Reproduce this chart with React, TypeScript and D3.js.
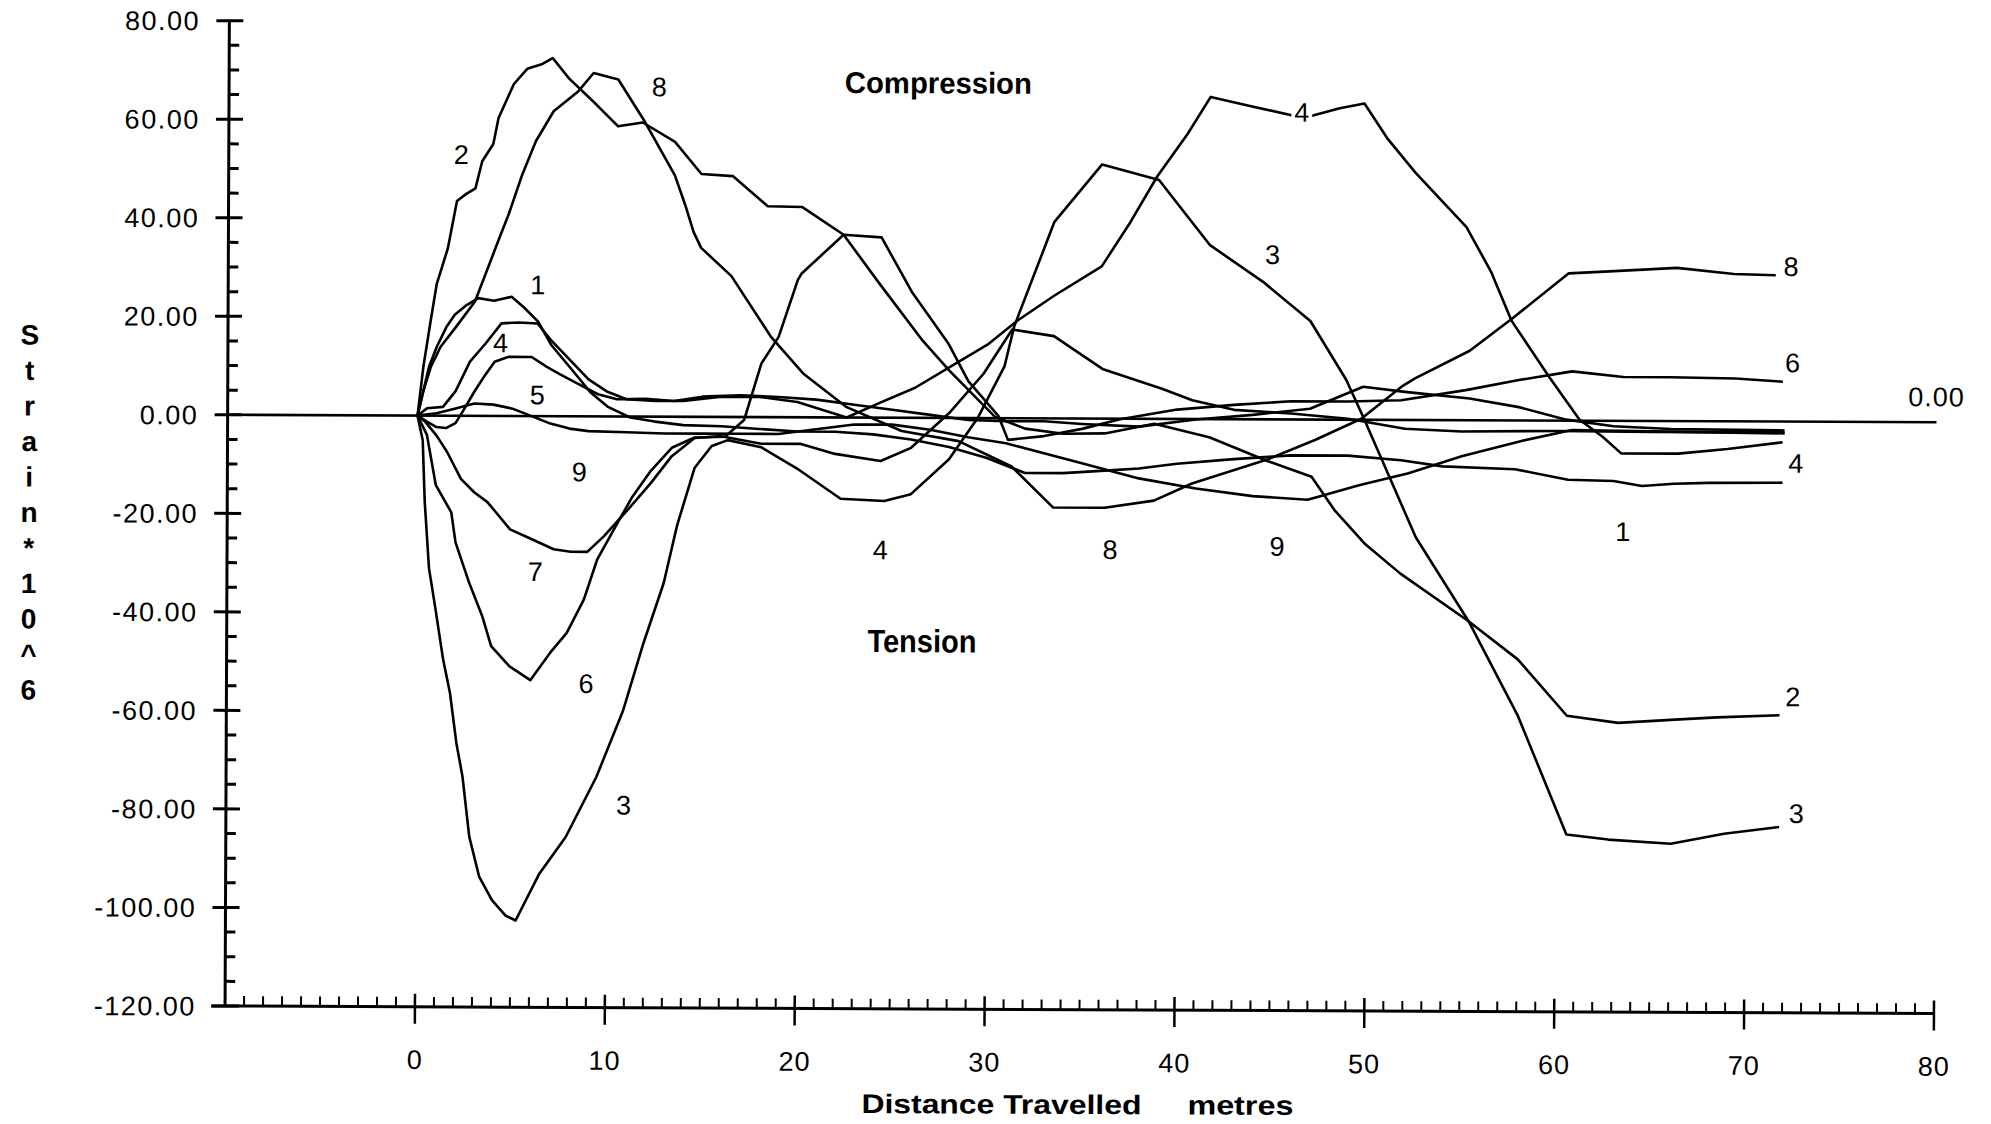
import React from 'react';
import * as d3 from 'd3';

type Pt = [number, number];

// Strain (x10^-6) against distance travelled (m), one array per gauge
const gauge1: Pt[] = [[0,0],[0.3,5],[0.6,10],[1.0,14],[1.5,18],[1.94,20.5],[2.5,22.3],[3.17,23.9],[4.0,23.4],[4.93,24.2],[5.6,22],[6.33,19.2],[7.04,14.4],[8.09,9.6],[9.1,4.9],[10,2],[11.2,-0.2],[12.5,-1],[14,-1.7],[16,-1.9],[18,-2.4],[20,-2.9],[22,-2.9],[24,-3.4],[26,-4.4],[28,-5.9],[30,-8.1],[32,-11.1],[34,-11.1],[36,-10.6],[38,-10.1],[40,-9.1],[43,-8.1],[46,-7.3],[49,-7.3],[51.8,-8.2],[54,-9.4],[57.8,-9.9],[60.6,-12],[63,-12.2],[64.5,-13.2],[66.2,-12.7],[68,-12.5],[71.9,-12.4]];
const gauge2: Pt[] = [[0,0],[0.3,10],[0.64,18.5],[0.98,26.7],[1.56,34],[2.03,43.6],[2.5,45],[3.0,46.2],[3.35,51.7],[3.93,55.2],[4.2,60.5],[5.0,67.4],[5.7,70.5],[6.5,71.5],[7.04,72.7],[7.9,68.6],[9.35,63.3],[10.5,58.9],[11.8,59.7],[13.5,55.8],[14.9,49.3],[16.55,48.9],[18.4,42.8],[20.2,42.7],[22.4,37.1],[24.3,27.2],[26.6,15.6],[28,9.6],[30.4,0.3],[32,-2.1],[34,-3.1],[36.2,-3],[38.8,-1],[41.7,-3.7],[44.8,-8.5],[47.1,-11.6],[48.3,-18.3],[49.9,-25.1],[51.8,-31.2],[55.4,-40.8],[58,-48.5],[60.6,-59.9],[63.3,-61.3],[66.3,-60.6],[68.5,-60.1],[71.8,-59.6]];
const gauge3: Pt[] = [[0,0],[0.28,-5],[0.4,-17.5],[0.64,-31],[0.98,-39],[1.4,-49.4],[1.77,-56.2],[2.12,-66.4],[2.45,-73.2],[2.82,-85.4],[3.35,-93.5],[4.03,-98.3],[4.75,-101.4],[5.28,-102.4],[6.5,-93],[7.9,-85.4],[9.5,-73.2],[10.9,-59.6],[11.95,-46],[13,-33.8],[13.7,-22],[14.6,-10.4],[15.5,-5.9],[16.35,-4.7],[18.1,-6.1],[20,-10.4],[22.3,-16.5],[24.6,-16.9],[26,-15.5],[28,-8.4],[29.5,0],[30.9,10.5],[31.4,18.6],[33.5,39.9],[36,51.6],[39,48.5],[41.7,35.3],[44.5,27.9],[47,20],[48.9,8.1],[49.8,0.6],[52.6,-23.8],[55.4,-40.8],[58,-59.8],[60.6,-84],[62.8,-85],[66.1,-85.8],[68.9,-83.7],[71.8,-82.3]];
const gauge4: Pt[] = [[0,0],[0.5,1.5],[1.34,1.8],[2,5],[2.75,11],[3.57,14.7],[4.4,18.8],[5.3,19],[6.3,18.8],[7,15.5],[8,11.5],[9,7.5],[10,5],[11,3.5],[12.5,3.2],[14,3.2],[16,4.1],[18,4.1],[20,3.1],[22.6,0],[24.4,3.1],[26.2,6.1],[28.3,11],[30,14.9],[31.6,19.9],[33.5,24.9],[36,30.9],[37.5,39.9],[38.9,49.2],[40.5,57.9],[41.7,65.4],[44,63.4],[46.6,61.2],[48.5,63.2],[49.8,64.2],[51,57.2],[52.5,50.2],[55.2,39.2],[56.5,30.2],[57.6,20.2],[59.6,8.8],[61.2,0.2],[62.4,-3.2],[63.4,-6.6],[66.4,-6.6],[69,-5.6],[71.9,-4.2]];
const gauge5: Pt[] = [[0,0],[0.5,-1.2],[1,-2.3],[1.5,-2.5],[2,-1.5],[2.4,1],[3,5],[3.5,8],[4.05,11],[4.75,12],[6,12],[6.8,10],[7.5,8.5],[8.5,6.5],[9.5,4.5],[10.5,3.5],[12,3.6],[13.5,3.2],[15,4.1],[17,4.4],[19,4.1],[21,3.6],[23,2.6],[25,1.6],[27,0.6],[29,-0.4],[31,-0.6],[33,-0.6],[35,-1.1],[38,-1.6],[41,-0.1],[44,0.9],[47,2.2],[49.8,6.7],[52,5.7],[55.4,4.4],[58,2.7],[60.5,0.2],[63,-1.1],[66,-1.6],[72,-1.8]];
const gauge6: Pt[] = [[0,0],[0.5,-3.9],[0.98,-14.1],[1.8,-19.6],[2.03,-25.7],[2.75,-33.8],[3.45,-40.6],[3.93,-46.7],[4.9,-50.8],[6,-53.6],[7.04,-48],[7.9,-44],[8.8,-37.2],[9.5,-29],[10.5,-22],[11.3,-16.5],[12.3,-11],[13.4,-6.3],[14.6,-4.2],[16.2,-4],[17.2,-0.6],[18.1,10.9],[19,16.3],[20,27.9],[20.2,29.2],[22.4,37.1],[24.4,36.6],[26,25.6],[27.96,15],[29,7.5],[30.6,0.4],[31.1,-4.4],[33,-3.6],[35,-2.1],[37,-0.1],[40,1.9],[43,2.9],[46,3.7],[49,3.7],[51.8,4],[55.2,6.1],[58,8.2],[60.8,10],[63.5,8.9],[66,8.9],[69.4,8.7],[71.9,8.1]];
const gauge7: Pt[] = [[0,0],[0.4,-1.2],[1.0,-4],[1.56,-7.3],[2.3,-12.8],[3.0,-15.5],[3.7,-17.5],[4.16,-19.6],[4.9,-23],[6.05,-25],[7.2,-27],[8.1,-27.5],[8.97,-27.5],[9.85,-24.3],[11.1,-18.9],[12.3,-13.5],[13.4,-8],[14.6,-4.3],[16,-3.9],[18.1,-5.4],[20.2,-5.4],[22,-7.4],[24.4,-8.8],[26,-6.1],[28,1],[29.8,9],[31.3,18],[33.5,16.7],[36.1,10],[39.2,6.1],[40.8,3.8],[43,1.9],[46,1.2],[49,0.2],[52,-1.8],[55,-2.3],[60,-2.1],[65,-2.2],[72,-2.2]];
const gauge8: Pt[] = [[0,0],[0.3,5],[0.7,10],[1.2,14],[2,18],[3,23.2],[4.2,35.4],[4.75,40.9],[5.46,49],[6.17,55.8],[7.1,61.9],[8.4,66],[9.2,69.7],[10.5,68.4],[11.9,59.9],[13.5,49],[14.05,43],[14.5,37.5],[14.9,34.3],[16.5,28.6],[18.6,16.3],[20.3,8.9],[22.6,2.1],[25.5,-2.7],[28.5,-4.7],[31.3,-9.8],[33.5,-18.1],[36.2,-18.1],[38.8,-16.6],[40.8,-13.1],[44.8,-8.1],[47.3,-4.1],[49.7,0.2],[51.8,6.7],[52.5,8.4],[55.4,14.1],[57.7,20.9],[60.6,29.9],[63,30.4],[66.3,31.1],[69.3,29.9],[71.5,29.7]];
const gauge9: Pt[] = [[0,0],[1,0.5],[2,1.5],[3,2.5],[4,2.3],[5,1.5],[6,0],[7,-1.5],[8,-2.5],[9,-3],[11,-3.2],[13,-3.4],[15,-3.4],[17,-3.4],[19,-3.4],[21,-2.4],[23,-1.4],[25,-1.4],[27,-2.4],[29,-3.9],[31,-5.1],[33,-7.1],[35,-9.1],[38,-12.1],[41,-14.1],[44,-15.6],[46.9,-16.3],[49.6,-13.3],[52.2,-10.8],[55,-7.3],[58.2,-4.1],[60.8,-1.9],[65,-2.1],[72,-2.4]];

const series: Pt[][] = [gauge1, gauge2, gauge3, gauge4, gauge5, gauge6, gauge7, gauge8, gauge9];

const yTickValues = [80, 60, 40, 20, 0, -20, -40, -60, -80, -100, -120];
const xTickValues = [0, 10, 20, 30, 40, 50, 60, 70, 80];

// curve number labels placed in data units
const curveLabelText = ['2','8','1','4','5','9','7','6','3','4','8','9','1','4','3','8','6','4','2','3'];
const curveLabelX = [2.24,12.66,6.31,4.36,6.31,8.54,6.24,8.94,10.94,24.4,36.5,45.3,63.5,46.5,45,72.3,72.4,72.6,72.5,72.7];
const curveLabelY = [53.1,67,26.7,14.9,4.4,-11.2,-31.5,-54.2,-78.8,-26.8,-26.5,-25.7,-22.4,62.4,33.5,31.5,12,-8.4,-55.8,-79.5];

const yTitle = 'Strain*10^6';

export default function App() {
  const W = 1991, H = 1124;
  const x = d3.scaleLinear().domain([-10, 80]).range([227.2, 1936.1]);
  const y = d3.scaleLinear().domain([-120, 80]).range([1009.7, 24.4]);
  const line = d3.line<Pt>().x(d => x(d[0])).y(d => y(d[1]));

  const yMinor = d3.range(-120, 80.01, 5).filter(v => v % 20 !== 0);
  const xMinor = d3.range(-10, 80.01, 1).filter(v => v % 10 !== 0);
  const font = "'Liberation Sans', Arial, sans-serif";
  const x0 = x(-10);
  const yb = y(-120);

  return (
    <svg width={W} height={H} style={{ position: 'absolute', left: 0, top: 0, background: '#fff' }}>
      <rect x={0} y={0} width={W} height={H} fill="#fff" />
      <g transform="rotate(0.25, 1080, 518)">
        {/* y axis */}
        <line x1={x0} x2={x0} y1={y(80)} y2={yb} stroke="#000" strokeWidth={3} />
        {yTickValues.map(v => (
          <g key={'yt' + v}>
            <line x1={x0 - 13} x2={x0 + 14} y1={y(v)} y2={y(v)} stroke="#000" strokeWidth={3} />
            <text x={198} y={y(v)} dy="0.36em" textAnchor="end" fontFamily={font} fontSize={27} letterSpacing={1.5}>{v.toFixed(2)}</text>
          </g>
        ))}
        {yMinor.map(v => (
          <line key={'ym' + v} x1={x0} x2={x0 + 10} y1={y(v)} y2={y(v)} stroke="#000" strokeWidth={3} />
        ))}
        {/* x axis */}
        <line x1={x0 - 14} x2={x(80)} y1={yb} y2={yb} stroke="#000" strokeWidth={3} />
        {xTickValues.map(v => (
          <g key={'xt' + v}>
            <line x1={x(v)} x2={x(v)} y1={yb - 13} y2={yb + 17} stroke="#000" strokeWidth={2.5} />
            <text x={x(v)} y={1072} textAnchor="middle" fontFamily={font} fontSize={27} letterSpacing={1}>{v}</text>
          </g>
        ))}
        {xMinor.map(v => (
          <line key={'xm' + v} x1={x(v)} x2={x(v)} y1={yb - 10} y2={yb} stroke="#000" strokeWidth={2} />
        ))}
        {/* zero reference line */}
        <line x1={x0} x2={x(80)} y1={y(0)} y2={y(0)} stroke="#000" strokeWidth={2.6} />
        {/* curves */}
        {series.map((s, i) => (
          <path key={'s' + i} d={line(s) || ''} fill="none" stroke="#000" strokeWidth={2.6} strokeLinejoin="round" />
        ))}
        {/* curve labels */}
        {curveLabelText.map((t, i) => (
          <text key={'cl' + i} x={x(curveLabelX[i])} y={y(curveLabelY[i])} dy="0.36em" textAnchor="middle"
            fontFamily={font} fontSize={27} stroke="#fff" strokeWidth={7} paintOrder="stroke" fill="#000">{t}</text>
        ))}
        <text x={x(80)} y={y(5.2)} dy="0.36em" textAnchor="middle" fontFamily={font} fontSize={27} letterSpacing={1}>0.00</text>
        <text x={843} y={94} fontFamily={font} fontSize={30} fontWeight="bold" textLength={187} lengthAdjust="spacingAndGlyphs">Compression</text>
        <text x={868} y={653} fontFamily={font} fontSize={32} fontWeight="bold" textLength={109} lengthAdjust="spacingAndGlyphs">Tension</text>
        <text x={864} y={1114} fontFamily={font} fontSize={27} fontWeight="bold" textLength={280} lengthAdjust="spacingAndGlyphs">Distance Travelled</text>
        <text x={1190} y={1114} fontFamily={font} fontSize={27} fontWeight="bold" textLength={106} lengthAdjust="spacingAndGlyphs">metres</text>
        {yTitle.split('').map((c, i) => (
          <text key={'yc' + i} x={29} y={339 + i * 35.5} dy="0.36em" textAnchor="middle" fontFamily={font} fontSize={28} fontWeight="bold">{c}</text>
        ))}
      </g>
    </svg>
  );
}
